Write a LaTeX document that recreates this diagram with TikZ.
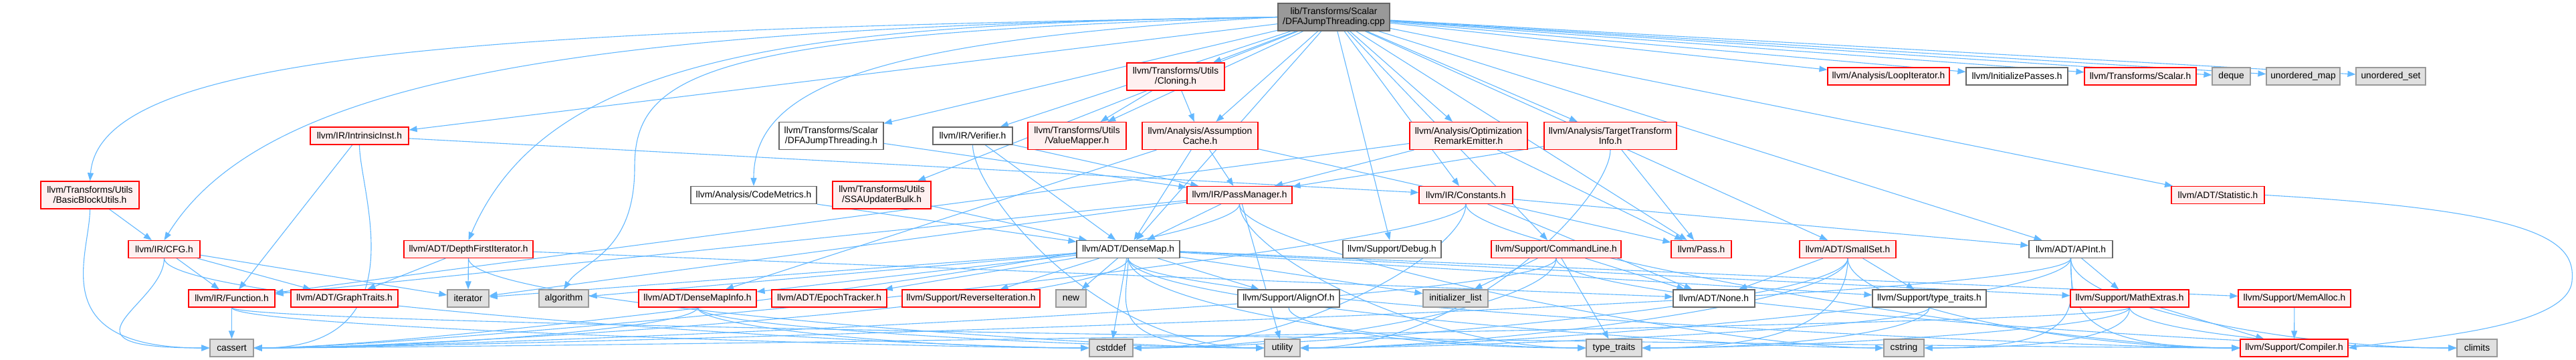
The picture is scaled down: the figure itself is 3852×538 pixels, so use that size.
\documentclass[tikz,border=0pt]{standalone}
\usepackage{fontspec}
\setmainfont{Liberation Sans}
\usepackage{tikz}
\usetikzlibrary{arrows.meta,backgrounds}
\definecolor{depblue}{HTML}{63B8FF}
\definecolor{hdrfill}{HTML}{FFF0F0}
\definecolor{sysfill}{HTML}{E0E0E0}
\definecolor{sysline}{HTML}{999999}
\definecolor{docline}{HTML}{666666}
\tikzset{
  >={Triangle[length=12pt,width=9pt]},
  box/.style={rectangle,line width=1.2pt,inner sep=0pt,minimum height=26pt,align=center,
    font=\fontsize{13.8}{15}\selectfont,minimum width=#1},
  two/.style={minimum height=41pt},
  hbox/.style={box=#1,draw=red,fill=hdrfill},
  wbox/.style={box=#1,draw=docline,fill=white},
  sbox/.style={box=#1,draw=sysline,fill=sysfill},
  rootbox/.style={box=#1,two,draw=docline,fill=sysline},
  dep/.style={->,draw=depblue,line width=1.1pt},
}
\begin{document}
\begin{tikzpicture}[x=1pt,y=-1pt]
\useasboundingbox (0,0) rectangle (3852,538);
% the file itself
\node[rootbox=167pt] (root) at (1994.5,25.5) {lib/Transforms/Scalar\\/DFAJumpThreading.cpp};
% row 2
\node[hbox=182pt] (loopit) at (2824,114) {llvm/Analysis/LoopIterator.h};
\node[wbox=152pt] (initpass) at (3016,114) {llvm/InitializePasses.h};
\node[hbox=167pt] (scalarh) at (3200.5,114) {llvm/Transforms/Scalar.h};
\node[sbox=57pt] (deque) at (3336.5,114) {deque};
\node[sbox=110pt] (umap) at (3444,114) {unordered\_map};
\node[sbox=104pt] (uset) at (3575,114) {unordered\_set};
\node[hbox=146pt,two] (cloning) at (1758,114.5) {llvm/Transforms/Utils\\/Cloning.h};
% row 3
\node[hbox=147pt] (intrinsic) at (537.5,203) {llvm/IR/IntrinsicInst.h};
\node[wbox=156pt,two] (dfah) at (1243,203) {llvm/Transforms/Scalar\\/DFAJumpThreading.h};
\node[wbox=119pt] (verifier) at (1454.5,203) {llvm/IR/Verifier.h};
\node[hbox=147pt,two] (valuemapper) at (1610.5,203) {llvm/Transforms/Utils\\/ValueMapper.h};
\node[hbox=173pt,two] (assumption) at (1794.5,203) {llvm/Analysis/Assumption\\Cache.h};
\node[hbox=176pt,two] (ore) at (2196,203) {llvm/Analysis/Optimization\\RemarkEmitter.h};
\node[hbox=198pt,two] (tti) at (2408,203) {llvm/Analysis/TargetTransform\\Info.h};
% row 4
\node[hbox=147pt,two] (bbutils) at (134.5,291.5) {llvm/Transforms/Utils\\/BasicBlockUtils.h};
\node[wbox=188pt] (codemetrics) at (1127,291.5) {llvm/Analysis/CodeMetrics.h};
\node[hbox=147pt,two] (ssabulk) at (1318.5,291.5) {llvm/Transforms/Utils\\/SSAUpdaterBulk.h};
\node[hbox=157pt] (passmgr) at (1853.5,291.5) {llvm/IR/PassManager.h};
\node[hbox=140pt] (constants) at (2192,291.5) {llvm/IR/Constants.h};
\node[hbox=139pt] (statistic) at (3316.5,291.5) {llvm/ADT/Statistic.h};
% row 5
\node[hbox=107pt] (cfg) at (245.5,372.5) {llvm/IR/CFG.h};
\node[hbox=193pt] (dfi) at (700.5,372.5) {llvm/ADT/DepthFirstIterator.h};
\node[wbox=154pt] (densemap) at (1687,372.5) {llvm/ADT/DenseMap.h};
\node[wbox=147pt] (debug) at (2081.5,372.5) {llvm/Support/Debug.h};
\node[hbox=194pt] (cmdline) at (2327,372.5) {llvm/Support/CommandLine.h};
\node[hbox=90pt] (pass) at (2544,372.5) {llvm/Pass.h};
\node[hbox=144pt] (smallset) at (2763,372.5) {llvm/ADT/SmallSet.h};
\node[wbox=125pt] (apint) at (3096.5,372.5) {llvm/ADT/APInt.h};
% row 6
\node[hbox=129pt] (function) at (346.5,446) {llvm/IR/Function.h};
\node[hbox=160pt] (graphtraits) at (515,446) {llvm/ADT/GraphTraits.h};
\node[sbox=62pt] (iterator) at (700,446) {iterator};
\node[sbox=74pt] (algorithm) at (843,446) {algorithm};
\node[hbox=176pt] (densemapinfo) at (1043,446) {llvm/ADT/DenseMapInfo.h};
\node[hbox=172pt] (epoch) at (1240,446) {llvm/ADT/EpochTracker.h};
\node[hbox=206pt] (reverse) at (1452,446) {llvm/Support/ReverseIteration.h};
\node[sbox=45pt] (new) at (1601.5,446) {new};
\node[wbox=152pt] (alignof) at (1927,446) {llvm/Support/AlignOf.h};
\node[sbox=97pt] (initlist) at (2176.5,446) {initializer\_list};
\node[wbox=122pt] (none) at (2563,446) {llvm/ADT/None.h};
\node[wbox=170pt] (sptypetraits) at (2885,446) {llvm/Support/type\_traits.h};
\node[hbox=177pt] (mathextras) at (3184.5,446) {llvm/Support/MathExtras.h};
\node[hbox=168pt] (memalloc) at (3431,446) {llvm/Support/MemAlloc.h};
% row 7
\node[sbox=65pt] (cassert) at (346.5,520) {cassert};
\node[sbox=65pt] (cstddef) at (1661.5,520) {cstddef};
\node[sbox=53pt] (utility) at (1917.5,520) {utility};
\node[sbox=83pt] (typetraits) at (2413.5,520) {type\_traits};
\node[sbox=60pt] (cstring) at (2847,520) {cstring};
\node[hbox=161pt] (compiler) at (3430.5,520) {llvm/Support/Compiler.h};
\node[sbox=60pt] (climits) at (3704,520) {climits};

\begin{scope}[on background layer]
% long sweeps from the file to the left part
\draw[dep] (root.west) .. controls (700,45) and (150,80) .. (bbutils.north);
\draw[dep] (root.west) .. controls (900,40) and (400,110) .. (cfg.north);
\draw[dep] (root.west) .. controls (1200,35) and (820,80) .. (dfi.north);
\draw[dep] (root.west) .. controls (1050,50) and (949,110) .. (949,250)
  .. controls (949,380) and (870,390) .. (algorithm.north);
\draw[dep] (root.west) .. controls (1300,60) and (1127,130) .. (codemetrics.north);
\foreach \src/\dst in {root/intrinsic,
  root/dfah,root/verifier,root/valuemapper,root/cloning,root/assumption,
  root/ssabulk,root/densemap,root/debug,root/cmdline,root/constants,root/pass,root/smallset,
  root/apint,root/statistic,root/ore,root/tti,root/loopit,root/initpass,root/scalarh,
  root/deque,root/umap,root/uset,
  cloning/valuemapper,cloning/assumption,intrinsic/function,intrinsic/constants,bbutils/cfg,
  cfg/function,cfg/graphtraits,cfg/iterator,dfah/passmgr,verifier/densemap,verifier/passmgr,
  assumption/densemap,assumption/densemapinfo,assumption/passmgr,assumption/pass,
  ssabulk/densemap,codemetrics/densemap,ore/passmgr,ore/pass,ore/function,tti/passmgr,tti/pass,
  passmgr/densemap,passmgr/function,passmgr/iterator,passmgr/utility,
  dfi/iterator,dfi/graphtraits,dfi/none,
  densemap/densemapinfo,densemap/epoch,densemap/reverse,densemap/new,densemap/alignof,
  densemap/algorithm,densemap/iterator,densemap/initlist,densemap/sptypetraits,
  densemap/mathextras,densemap/memalloc,densemap/cstddef,
  constants/apint,constants/none,cmdline/initlist,cmdline/none,cmdline/typetraits,
  smallset/none,smallset/sptypetraits,apint/mathextras,
  mathextras/compiler,memalloc/compiler,function/cassert}
  \draw[dep] (\src) -- (\dst);
% into the bottom row from the left
\foreach \src/\dst in {bbutils/cassert,cfg/cassert,cfg/cstddef,verifier/utility,dfi/utility,
  densemap/utility,passmgr/typetraits,densemap/typetraits,passmgr/cstring,densemap/cstring,
  densemap/compiler,constants/compiler,smallset/compiler,apint/compiler,cmdline/climits,
  apint/climits}
  \draw[dep] (\src.south) .. controls +(0,70) and +(-250,0) .. (\dst.west);
\foreach \src/\dst in {densemapinfo/cstddef,function/cstddef,densemapinfo/utility,
  alignof/typetraits,function/compiler,mathextras/climits}
  \draw[dep] (\src.south) .. controls +(0,30) and +(-250,0) .. (\dst.west);
% into the bottom row from the right
\foreach \src/\dst in {intrinsic/cassert,passmgr/cassert,densemap/cassert,constants/cassert,
  apint/cassert,cmdline/cassert,constants/cstddef,smallset/cstddef,cmdline/cstddef,
  tti/utility,apint/utility,smallset/utility,smallset/typetraits,apint/cstring}
  \draw[dep] (\src.south) .. controls +(0,70) and +(250,0) .. (\dst.east);
\foreach \src/\dst in {densemapinfo/cassert,mathextras/cassert,sptypetraits/utility,
  mathextras/typetraits,sptypetraits/typetraits,mathextras/cstring}
  \draw[dep] (\src.south) .. controls +(0,30) and +(250,0) .. (\dst.east);
\draw[dep] (statistic.east) .. controls (3800,315) and (3852,360) .. (3846,420)
  .. controls (3840,490) and (3620,505) .. (compiler.east);
\end{scope}
\end{tikzpicture}
\end{document}
